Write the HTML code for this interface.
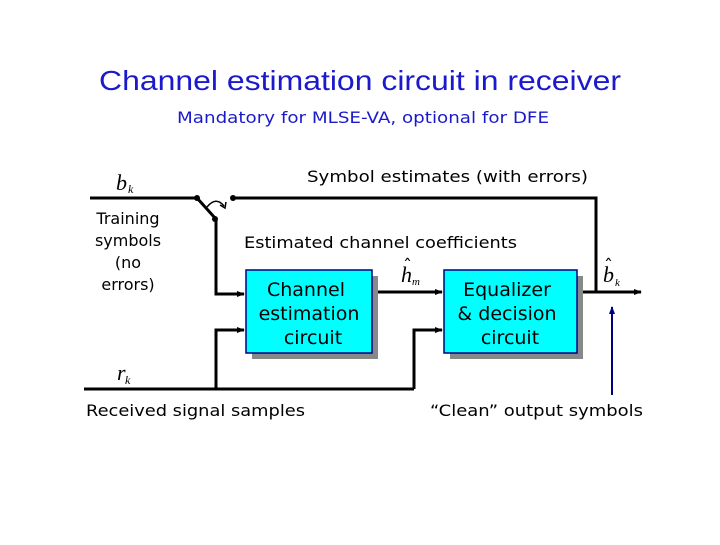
<!DOCTYPE html>
<html><head><style>
body{margin:0;background:#fff;}
svg text{font-family:"DejaVu Sans","Liberation Sans",sans-serif;}
.m{font-family:"Liberation Serif",serif;font-style:italic;}
</style></head><body>
<svg width="720" height="540" viewBox="0 0 720 540" xmlns="http://www.w3.org/2000/svg">
<defs>
<marker id="a" markerWidth="8" markerHeight="8" refX="7" refY="4" orient="auto" markerUnits="userSpaceOnUse"><path d="M0,1 L8,4 L0,7 z" fill="#000"/></marker>
<marker id="b" markerWidth="8" markerHeight="8" refX="7" refY="4" orient="auto" markerUnits="userSpaceOnUse"><path d="M0,1 L8,4 L0,7 z" fill="#000080"/></marker>
</defs>
<text x="99" y="90" font-size="28" fill="#1a1acc" textLength="522" lengthAdjust="spacingAndGlyphs" style="font-family:'Liberation Sans',sans-serif">Channel estimation circuit in receiver</text>
<text x="177" y="123" font-size="16" fill="#1a1acc" textLength="372" lengthAdjust="spacingAndGlyphs">Mandatory for MLSE-VA, optional for DFE</text>
<text x="307" y="182" font-size="16" textLength="281" lengthAdjust="spacingAndGlyphs">Symbol estimates (with errors)</text>
<text x="244" y="248" font-size="16" textLength="273" lengthAdjust="spacingAndGlyphs">Estimated channel coefficients</text>
<g font-size="16" text-anchor="middle">
<text x="128" y="224">Training</text><text x="128" y="246">symbols</text><text x="128" y="268">(no</text><text x="128" y="290">errors)</text>
</g>
<text x="86" y="416" font-size="16" textLength="219" lengthAdjust="spacingAndGlyphs">Received signal samples</text>
<text x="430" y="416" font-size="16" textLength="213" lengthAdjust="spacingAndGlyphs">“Clean” output symbols</text>
<text x="116" y="190" font-size="22" class="m">b</text><text x="128" y="193" font-size="12" class="m">k</text>
<text x="117" y="380" font-size="22" class="m">r</text><text x="125" y="384" font-size="12" class="m">k</text>
<text x="401" y="282" font-size="22" class="m">h</text><text x="403" y="272" font-size="18">ˆ</text><text x="412" y="285" font-size="11" class="m">m</text>
<text x="603" y="282" font-size="22" class="m">b</text><text x="604" y="272" font-size="18">ˆ</text><text x="615" y="286" font-size="11" class="m">k</text>
<g stroke="#000" stroke-width="3" fill="none">
<path d="M90,198 H197"/>
<path d="M233,198 H596 V292"/>
<path d="M197,198 L215,218"/>
<path d="M216,218 V294 H244" marker-end="url(#a)"/>
<path d="M84,389 H414"/>
<path d="M216,389 V330 H244" marker-end="url(#a)"/>
<path d="M414,389 V330 H442" marker-end="url(#a)"/>
<path d="M372,292 H442" marker-end="url(#a)"/>
<path d="M577,292 H641" marker-end="url(#a)"/>
</g>
<path d="M207,207 Q216,196 224,206" stroke="#000" stroke-width="1.5" fill="none"/>
<path d="M220,205 L225,208 L226,202" stroke="#000" stroke-width="1.5" fill="none"/>
<circle cx="197" cy="198" r="3" fill="#000"/><circle cx="233" cy="198" r="3" fill="#000"/><circle cx="215" cy="219" r="3" fill="#000"/>
<path d="M612,395 V307" stroke="#000080" stroke-width="2" marker-end="url(#b)"/>
<rect x="252" y="276" width="126" height="83" fill="#888"/>
<rect x="246" y="270" width="126" height="83" fill="#00ffff" stroke="#000080" stroke-width="1.5"/>
<rect x="450" y="276" width="133" height="83" fill="#888"/>
<rect x="444" y="270" width="133" height="83" fill="#00ffff" stroke="#000080" stroke-width="1.5"/>
<g font-size="19" text-anchor="middle">
<text x="306" y="296">Channel</text><text x="309" y="320">estimation</text><text x="313" y="344">circuit</text>
<text x="507" y="296">Equalizer</text><text x="507" y="320">&amp; decision</text><text x="510" y="344">circuit</text>
</g>
</svg>
</body></html>
